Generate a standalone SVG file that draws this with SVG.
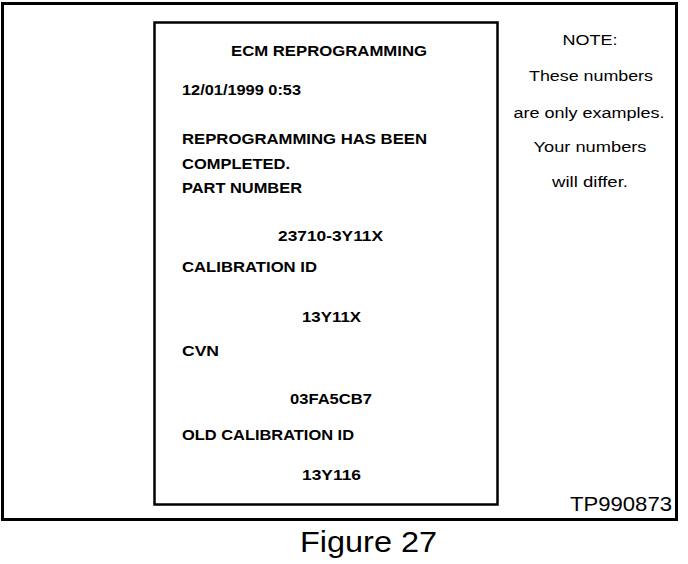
<svg xmlns="http://www.w3.org/2000/svg" width="688" height="564" viewBox="0 0 688 564">
<style>
.frame{fill:none;stroke:#000}
.b{font-family:"Liberation Sans",Arial,sans-serif;font-weight:bold;font-size:14.5px;fill:#000}
.n{font-family:"Liberation Sans",Arial,sans-serif;font-size:15.5px;fill:#000;text-anchor:middle}
.r{font-family:"Liberation Sans",Arial,sans-serif;fill:#000}
</style>
<rect width="688" height="564" fill="#fff"/>
<g id="outer-frame">
<rect class="frame" x="2.5" y="3.5" width="674" height="516" stroke-width="3"/>
</g>
<g id="printout">
<rect class="frame" x="154.5" y="22.5" width="343" height="482" stroke-width="2.5"/>
<text class="b" x="231" y="56" textLength="196" lengthAdjust="spacingAndGlyphs">ECM REPROGRAMMING</text>
<text class="b" x="182" y="94.5" textLength="119" lengthAdjust="spacingAndGlyphs">12/01/1999 0:53</text>
<text class="b" x="182" y="143.5" textLength="245" lengthAdjust="spacingAndGlyphs">REPROGRAMMING HAS BEEN</text>
<text class="b" x="182" y="168.5" textLength="108" lengthAdjust="spacingAndGlyphs">COMPLETED.</text>
<text class="b" x="182" y="193" textLength="120" lengthAdjust="spacingAndGlyphs">PART NUMBER</text>
<text class="b" x="278" y="241" textLength="105" lengthAdjust="spacingAndGlyphs">23710-3Y11X</text>
<text class="b" x="182" y="272" textLength="135" lengthAdjust="spacingAndGlyphs">CALIBRATION ID</text>
<text class="b" x="302" y="322" textLength="59" lengthAdjust="spacingAndGlyphs">13Y11X</text>
<text class="b" x="182" y="356" textLength="37" lengthAdjust="spacingAndGlyphs">CVN</text>
<text class="b" x="290" y="403.5" textLength="82" lengthAdjust="spacingAndGlyphs">03FA5CB7</text>
<text class="b" x="182" y="439.5" textLength="172" lengthAdjust="spacingAndGlyphs">OLD CALIBRATION ID</text>
<text class="b" x="302" y="479.5" textLength="59" lengthAdjust="spacingAndGlyphs">13Y116</text>
</g>
<g id="note">
<text class="n" x="590" y="45" textLength="55" lengthAdjust="spacingAndGlyphs">NOTE:</text>
<text class="n" x="591" y="81" textLength="124" lengthAdjust="spacingAndGlyphs">These numbers</text>
<text class="n" x="589" y="117.5" textLength="151" lengthAdjust="spacingAndGlyphs">are only examples.</text>
<text class="n" x="590" y="152" textLength="113" lengthAdjust="spacingAndGlyphs">Your numbers</text>
<text class="n" x="590" y="187" textLength="76" lengthAdjust="spacingAndGlyphs">will differ.</text>
</g>
<g id="ref-code">
<text class="r" x="570" y="510.5" font-size="20" textLength="102" lengthAdjust="spacingAndGlyphs">TP990873</text>
</g>
<g id="caption">
<text class="r" x="300" y="551.5" font-size="30" textLength="137" lengthAdjust="spacingAndGlyphs">Figure 27</text>
</g>
</svg>
